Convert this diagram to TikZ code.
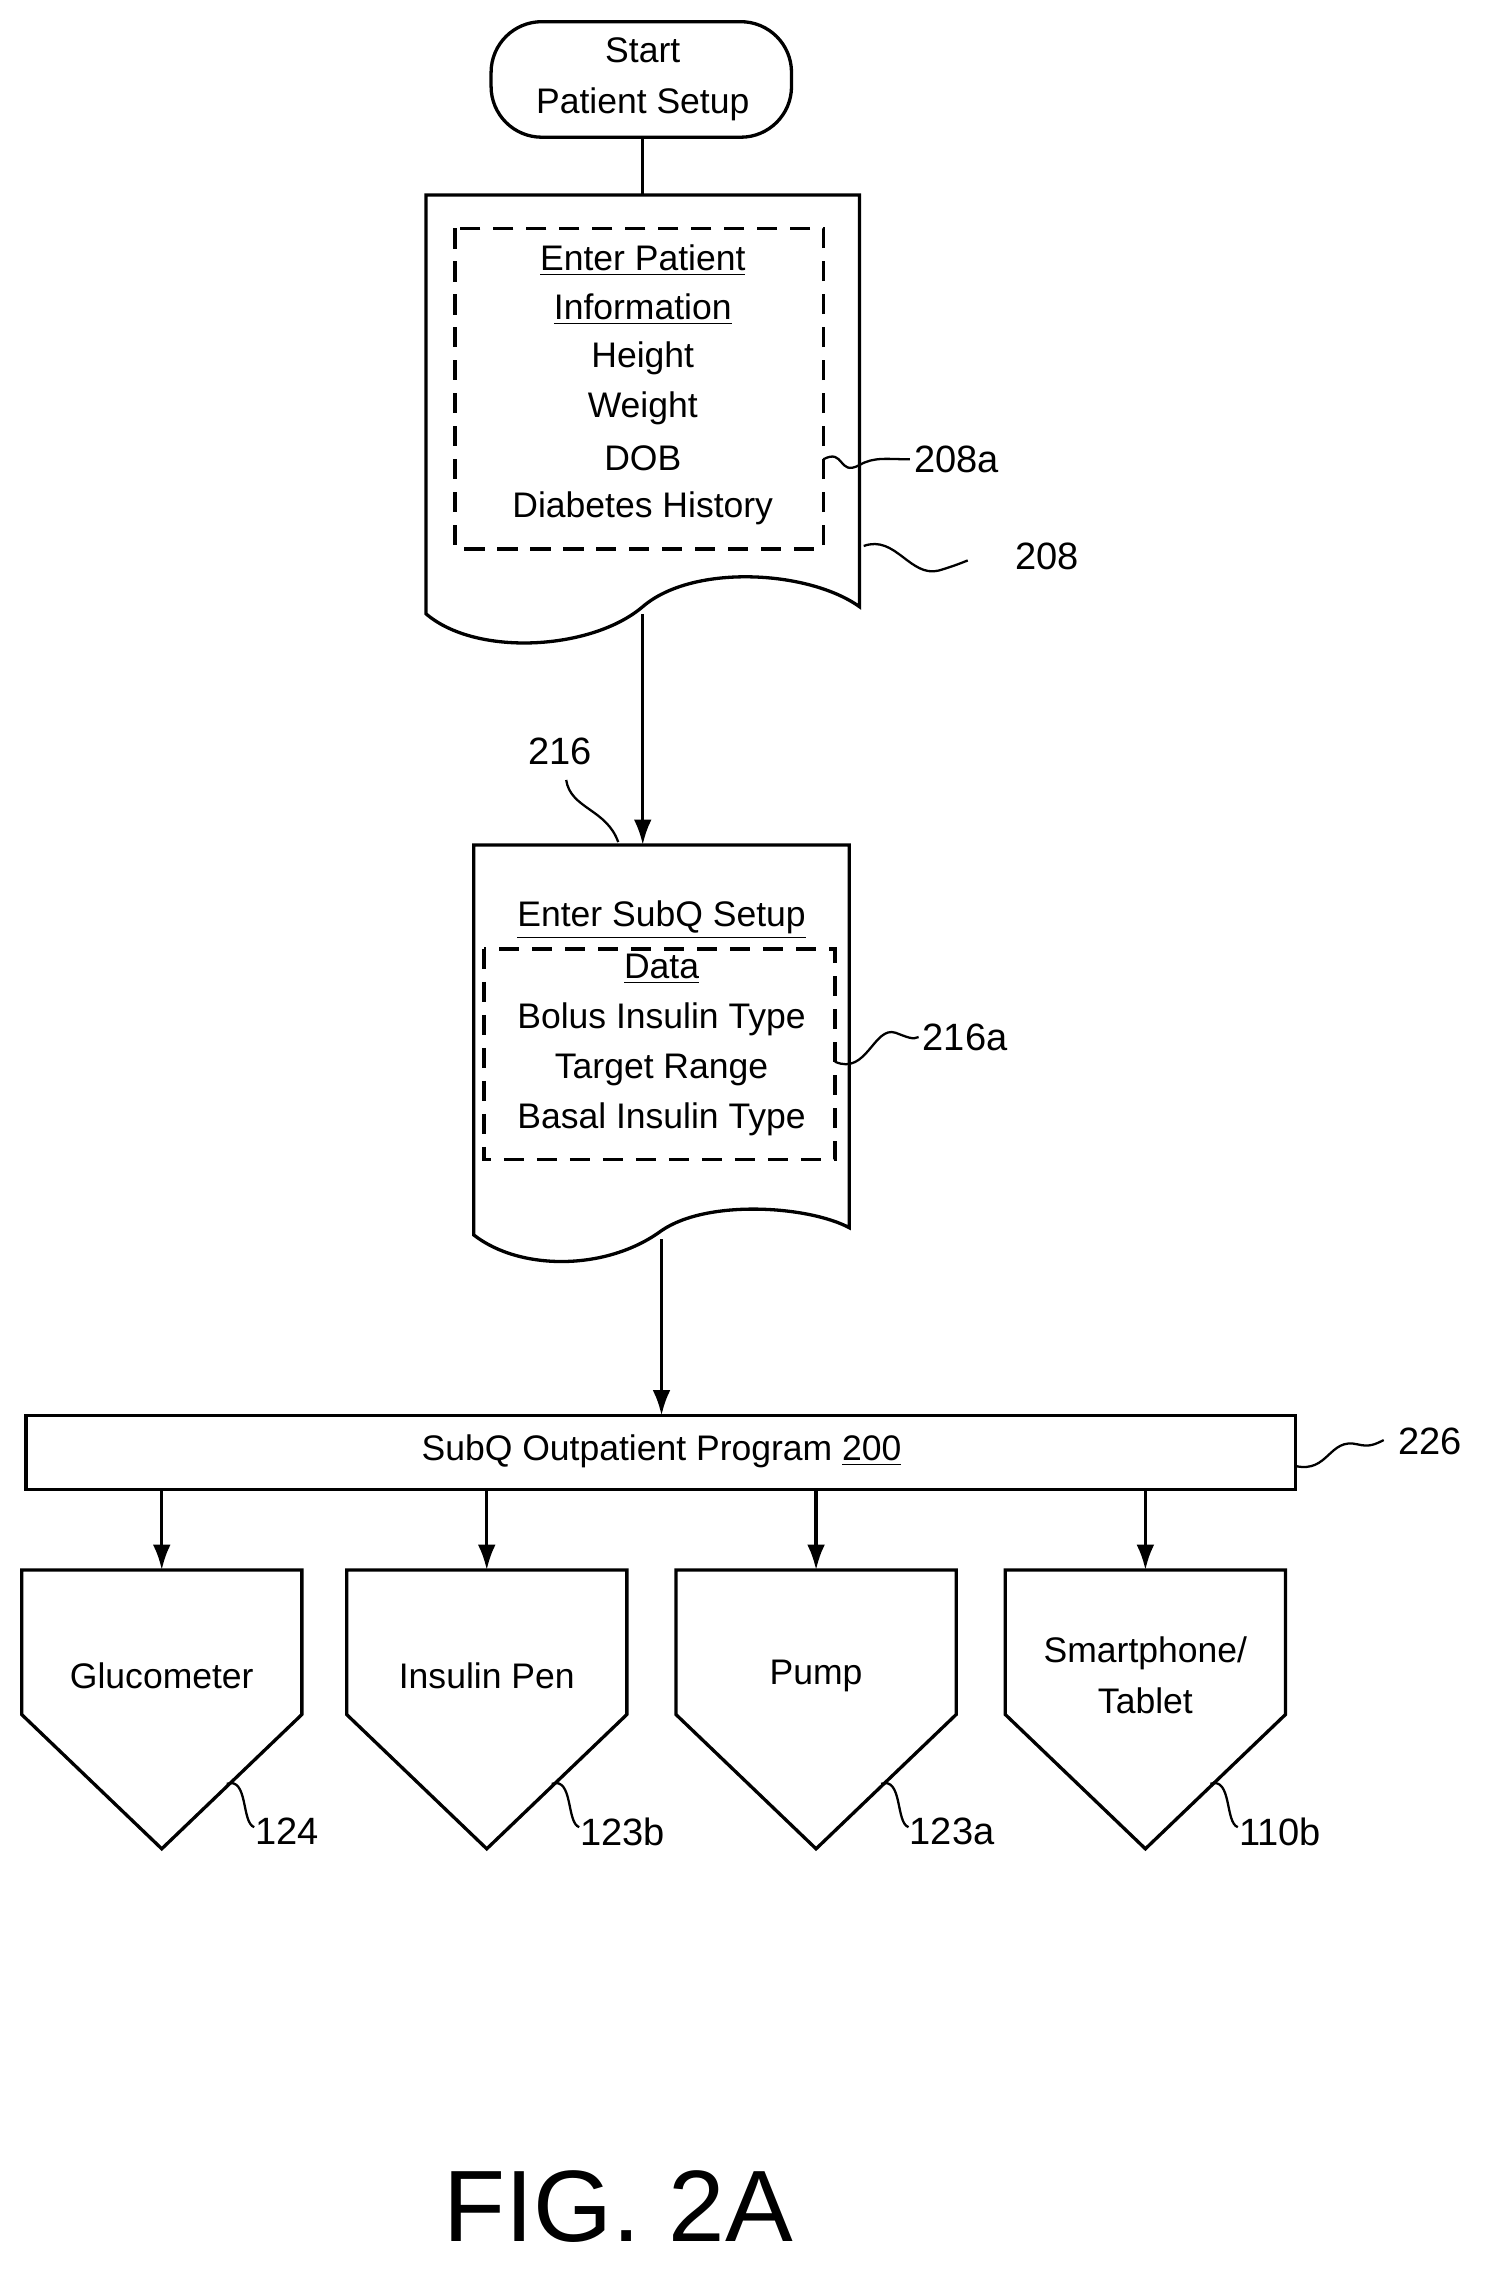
\documentclass[tikz,border=0pt]{standalone}
\usepackage{fontspec}
\setmainfont{Liberation Sans}
\usetikzlibrary{arrows.meta}
\begin{document}
\begin{tikzpicture}[x=0.02cm,y=-0.02cm,line width=1.3pt,
  txt/.style={font=\fontsize{14}{17}\selectfont,align=center,inner sep=0pt},
  lbl/.style={font=\fontsize{15}{18}\selectfont,inner sep=1pt},
  arr/.style={-{Latex[length=10pt,width=7pt]}},
  dsh/.style={dash pattern=on 8pt off 5pt},
  sq/.style={line width=0.9pt}]
\useasboundingbox (0,0) rectangle (1040,1573);
% start
\draw[rounded corners=20pt] (340,15) rectangle (548,95);
\node[txt] (start) at (445,55) {Start\\[3pt]Patient Setup};
\coordinate (sb) at (445,95);
% doc 208
\draw (295,135) -- (595,135) -- (595,420) .. controls (560,395) and (480,390) .. (445,420)
  .. controls (410,450) and (330,455) .. (295,425) -- cycle;
\coordinate (d1t) at (445,135);
\coordinate (d1b) at (445,425);
\draw (sb) -- (d1t);
\draw[dsh] (315,158) rectangle (570,380);
\node[txt] (p1) at (445,180) {\underline{Enter Patient}};
\node[txt] at (445,214) {\underline{Information}};
\node[txt] at (445,248) {Height};
\node[txt] at (445,283) {Weight};
\node[txt] at (445,317) {DOB};
\node[txt] at (445,352) {Diabetes History};
\node[lbl,anchor=west] (l208a) at (630,318) {208a};
\draw[sq] (570,318) .. controls (585,310) and (580,330) .. (595,322) .. controls (605,316) and (615,318) .. (l208a.west);
\node[lbl,anchor=west] (l208) at (700,385) {208};
\draw[sq] (598,378) .. controls (620,370) and (630,400) .. (650,395) .. controls (660,392) and (665,390) .. (670,388);
% arrow to 216
\coordinate (d2t) at (445,585);
\draw[arr] (d1b) -- (d2t);
\node[lbl] (l216) at (388,520) {216};
\draw[sq] (392,540) .. controls (395,560) and (420,560) .. (428,583);
% doc 216
\draw (328,585) -- (588,585) -- (588,850) .. controls (560,835) and (490,830) .. (458,852)
  .. controls (420,880) and (360,880) .. (328,855) -- cycle;
\draw[dsh] (335,657) rectangle (578,803);
\node[txt] at (458,637) {\underline{Enter SubQ Setup}};
\node[txt] at (458,671) {\underline{Data}};
\node[txt] at (458,706) {Bolus Insulin Type};
\node[txt] at (458,741) {Target Range};
\node[txt] at (458,775) {Basal Insulin Type};
\node[lbl,anchor=west] (l216a) at (636,718) {216a};
\draw[sq] (578,735) .. controls (600,745) and (605,710) .. (620,715) .. controls (628,718) and (632,720) .. (l216a.west);
\coordinate (d2b) at (458,858);
% bar
\draw (18,980) rectangle (897,1031);
\node[txt] (bar) at (458,1005) {SubQ Outpatient Program \underline{200}};
\coordinate (bt) at (458,980);
\draw[arr] (d2b) -- (bt);
\node[lbl,anchor=west] (l226) at (965,998) {226};
\draw[sq] (897,1015) .. controls (920,1020) and (920,995) .. (940,1000) .. controls (948,1002) and (952,1000) .. (958,997);
% devices
\foreach \cx/\name/\lab/\txt in {112/g/124/Glucometer,337/ip/123b/Insulin Pen,565/pu/123a/Pump,793/sp/110b/{Smartphone/\\[3pt]Tablet}}{
  \draw[arr] (\cx,1031) -- (\cx,1087);
  \draw (\cx-97,1087) -- (\cx+97,1087) -- (\cx+97,1187) -- (\cx,1280) -- (\cx-97,1187) -- cycle;
  \node[txt] (\name) at (\cx,1160) {\txt};
  \node[lbl,anchor=west] (\name l) at (\cx+62,1268) {\lab};
  \draw[sq] (\cx+45,1235) .. controls (\cx+60,1230) and (\cx+55,1262) .. (\cx+64,1265);
}
\node[font=\fontsize{40}{48}\selectfont] (fig) at (428,1528) {FIG. 2A};
\end{tikzpicture}
\end{document}
